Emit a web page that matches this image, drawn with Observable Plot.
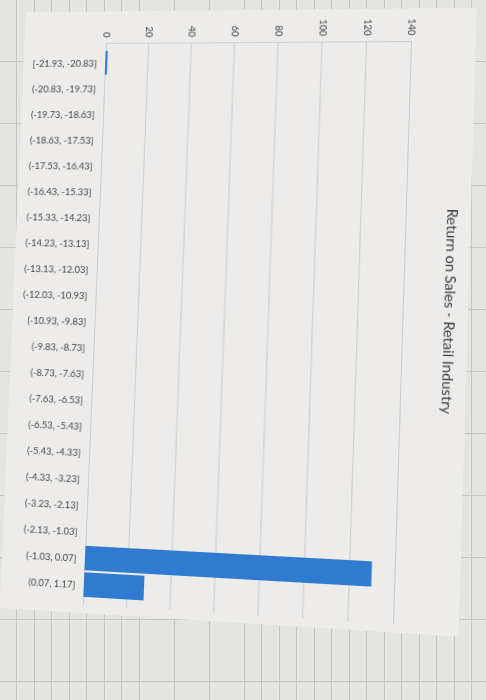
<!DOCTYPE html>
<html>
<head>
<meta charset="utf-8">
<script src="https://cdn.jsdelivr.net/npm/d3@7"></script>
<script src="https://cdn.jsdelivr.net/npm/@observablehq/plot@0.6"></script>
<style>
html, body { margin: 0; padding: 0; }
body {
  width: 486px; height: 700px; overflow: hidden; position: relative;
  background-color: #e4e4e2;
  background-image:
    repeating-linear-gradient(to right, transparent 0 16.5px, #c4c4c2 16.5px 17.5px),
    repeating-linear-gradient(to bottom, transparent 0 61px, #c4c4c2 61px 62px);
  font-family: Lato, "Open Sans", sans-serif;
}
#warp { position: absolute; left: 0; top: 0; width: 486px; height: 700px; transform-origin: 0 0; }
#panel { position: absolute; left: 16px; top: 12px; width: 445px; height: 600px; background: #edeceb; }
#panel svg { position: absolute; left: 0; top: 0; }
#topline { position: absolute; left: 84px; top: 32px; width: 300px; height: 1px; background: #d2d2d2; }
#title {
  position: absolute; left: 428px; top: 293px; white-space: nowrap;
  font-size: 14px; color: #3d3d3d; font-family: Lato, "Open Sans", sans-serif;
  transform: translate(-50%, -50%) rotate(90deg);
}
</style>
</head>
<body>
<div id="warp"><div id="panel"><div id="topline"></div><div id="title">Return on Sales - Retail Industry</div></div></div>
<script>
const categories = [
  "[-21.93, -20.83]", "(-20.83, -19.73]", "(-19.73, -18.63]", "(-18.63, -17.53]",
  "(-17.53, -16.43]", "(-16.43, -15.33]", "(-15.33, -14.23]", "(-14.23, -13.13]",
  "(-13.13, -12.03]", "(-12.03, -10.93]", "(-10.93, -9.83]", "(-9.83, -8.73]",
  "(-8.73, -7.63]", "(-7.63, -6.53]", "(-6.53, -5.43]", "(-5.43, -4.33]",
  "(-4.33, -3.23]", "(-3.23, -2.13]", "(-2.13, -1.03]", "(-1.03, 0.07]", "(0.07, 1.17]"
];
const counts = [1, 0, 0, 0, 0, 0, 0, 0, 0, 0, 0, 0, 0, 0, 0, 0, 0, 0, 0, 130, 28];
const xTicks = [0, 20, 40, 60, 80, 100, 120, 140];

const data = categories.map((bin, i) => ({bin, count: counts[i]}));

const chart = Plot.plot({
  width: 445,
  height: 600,
  marginLeft: 84,
  marginRight: 61,
  marginTop: 32,
  marginBottom: 8,
  style: {background: "transparent", fontFamily: "Lato, 'Open Sans', sans-serif", fontSize: "9.5px", color: "#454545"},
  x: {domain: [0, 140]},
  y: {domain: categories, paddingInner: 0.06, paddingOuter: 0.04},
  marks: [
    Plot.gridX(xTicks, {stroke: "#cbcbcb", strokeOpacity: 1}),
    Plot.barX(data.filter(d => d.count > 0), {x: "count", y: "bin", fill: "#2e7bcf"}),
    Plot.axisX(xTicks, {anchor: "top", tickSize: 0, tickPadding: 6, tickRotate: 90, label: null, fill: "#454545"}),
    Plot.axisY({tickSize: 0, tickPadding: 9, label: null, fill: "#454545"})
  ]
});
document.getElementById("panel").appendChild(chart);

// Perspective of the photographed sheet: map the flat plot-area corners onto the photo's corners
function homography(src, dst) {
  const A = [], b = [];
  for (let i = 0; i < 4; i++) {
    const [x, y] = src[i], [u, v] = dst[i];
    A.push([x, y, 1, 0, 0, 0, -u * x, -u * y]); b.push(u);
    A.push([0, 0, 0, x, y, 1, -v * x, -v * y]); b.push(v);
  }
  const n = 8;
  for (let c = 0; c < n; c++) {
    let p = c;
    for (let r = c + 1; r < n; r++) if (Math.abs(A[r][c]) > Math.abs(A[p][c])) p = r;
    [A[c], A[p]] = [A[p], A[c]]; [b[c], b[p]] = [b[p], b[c]];
    for (let r = 0; r < n; r++) {
      if (r === c) continue;
      const f = A[r][c] / A[c][c];
      for (let k = c; k < n; k++) A[r][k] -= f * A[c][k];
      b[r] -= f * b[c];
    }
  }
  return b.map((v, i) => v / A[i][i]);
}
const flat = [[100, 44], [400, 44], [100, 604], [400, 604]];
const photo = [[106, 43], [411, 41], [83, 605], [393, 624]];
const [a, bb, c, d, e, f, g, h] = homography(flat, photo);
const fx = v => v.toFixed(10);
document.getElementById("warp").style.transform =
  `matrix3d(${fx(a)},${fx(d)},0,${fx(g)},${fx(bb)},${fx(e)},0,${fx(h)},0,0,1,0,${fx(c)},${fx(f)},0,1)`;
</script>
</body>
</html>
